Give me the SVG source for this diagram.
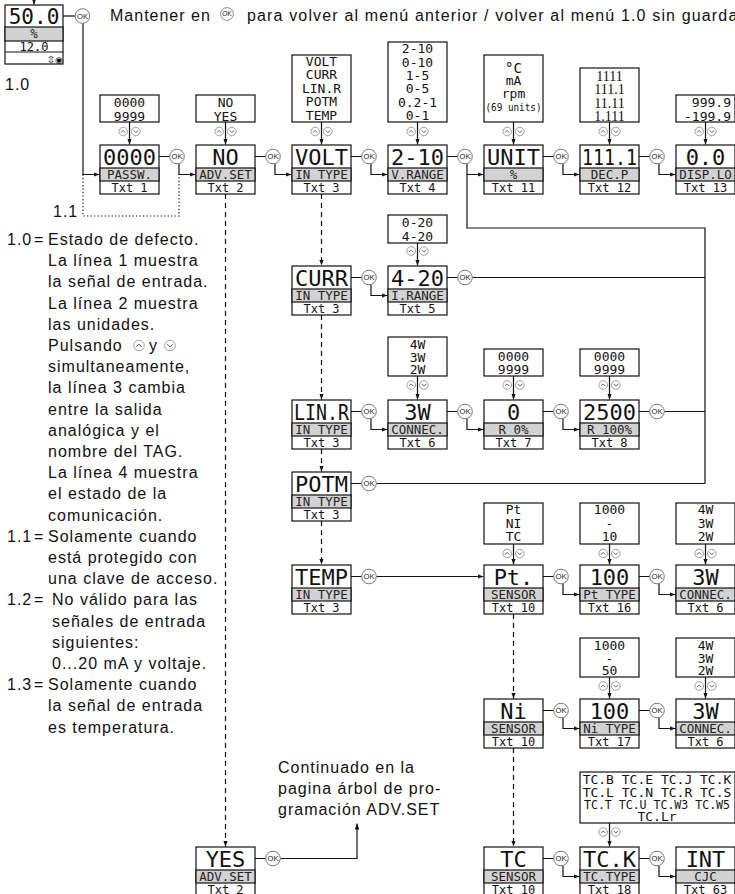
<svg xmlns="http://www.w3.org/2000/svg" width="735" height="894" viewBox="0 0 735 894">
<style>
.p{font-family:'Liberation Sans',Arial,sans-serif;font-size:16px;letter-spacing:1px;fill:#111}
.mt{font-family:'DejaVu Sans Mono',monospace;font-size:22px;text-anchor:middle;fill:#111}
.lt{font-family:'DejaVu Sans Mono',monospace;font-size:12.5px;text-anchor:middle;fill:#222}
.tt{font-family:'DejaVu Sans Mono',monospace;font-size:12px;text-anchor:middle;fill:#111}
.ls{font-family:'DejaVu Sans Mono',monospace;font-size:13px;text-anchor:middle;fill:#111}
.sf{font-family:'Liberation Serif',serif;font-size:14px;text-anchor:middle;fill:#111}
.bx{fill:#fff;stroke:#111;stroke-width:1.2}
.gr{fill:#d2d2d2;stroke:#111;stroke-width:1.2}
.ln{fill:none;stroke:#111;stroke-width:1.2}
.dl{stroke-dasharray:5 4}
.dt{stroke-dasharray:1.3 2.2}
</style>
<defs>
<marker id="ah" viewBox="0 0 8 6" refX="8" refY="3" markerWidth="6" markerHeight="4.5" orient="auto" markerUnits="userSpaceOnUse"><path d="M0,0 L8,3 L0,6 z" fill="#111"/></marker>
<symbol id="ok" viewBox="-8 -8 16 16" overflow="visible"><circle r="7.3" fill="#fff" stroke="#666" stroke-width="0.9"/><text y="2.7" text-anchor="middle" font-family="'Liberation Sans',Arial,sans-serif" font-size="7.6" fill="#222">OK</text></symbol>
<symbol id="ud" viewBox="-12 -5 24 10" overflow="visible"><circle cx="-6.3" r="4.3" fill="#fff" stroke="#888" stroke-width="0.8"/><circle cx="6.3" r="4.3" fill="#fff" stroke="#888" stroke-width="0.8"/><path d="M-8.4,1.1 L-6.3,-1.1 L-4.2,1.1 M4.2,-1.1 L6.3,1.1 L8.4,-1.1" stroke="#555" fill="none" stroke-width="0.9"/></symbol>
<symbol id="iu" viewBox="-6 -6 12 12" overflow="visible"><circle r="5.3" fill="#fff" stroke="#888" stroke-width="0.8"/><path d="M-2.8,1.4 L0,-1.4 L2.8,1.4" stroke="#555" fill="none" stroke-width="1"/></symbol>
<symbol id="idn" viewBox="-6 -6 12 12" overflow="visible"><circle r="5.3" fill="#fff" stroke="#888" stroke-width="0.8"/><path d="M-2.8,-1.4 L0,1.4 L2.8,-1.4" stroke="#555" fill="none" stroke-width="1"/></symbol>
</defs>
<rect width="735" height="894" fill="#fff"/>

<!-- header -->
<g id="header">
<text class="p" x="110" y="20.5">Mantener en</text>
<use href="#ok" x="220" y="7" width="14" height="14"/>
<text class="p" x="247" y="20.5" style="letter-spacing:1.15px">para volver al menú anterior / volver al menú 1.0 sin guardar</text>
<text class="p" x="5" y="90">1.0</text>
<text class="p" x="53" y="217">1.1</text>
</g>

<!-- notes -->
<g id="notes" class="p">
<text x="7" y="245">1.0</text><text x="34" y="245">=</text><text x="48" y="245">Estado de defecto.</text>
<text x="48" y="266.2">La línea 1 muestra</text>
<text x="48" y="287.4">la señal de entrada.</text>
<text x="48" y="308.6">La línea 2 muestra</text>
<text x="48" y="329.8">las unidades.</text>
<text x="48" y="351">Pulsando</text><text x="149" y="351">y</text>
<text x="48" y="372.2">simultaneamente,</text>
<text x="48" y="393.4">la línea 3 cambia</text>
<text x="48" y="414.6">entre la salida</text>
<text x="48" y="435.8">analógica y el</text>
<text x="48" y="457">nombre del TAG.</text>
<text x="48" y="478.2">La línea 4 muestra</text>
<text x="48" y="499.4">el estado de la</text>
<text x="48" y="520.6">comunicación.</text>
<text x="7" y="541.8">1.1</text><text x="34" y="541.8">=</text><text x="48" y="541.8">Solamente cuando</text>
<text x="48" y="563">está protegido con</text>
<text x="48" y="584.2">una clave de acceso.</text>
<text x="7" y="605.4">1.2</text><text x="34" y="605.4">=</text><text x="52" y="605.4">No válido para las</text>
<text x="52" y="626.6">señales de entrada</text>
<text x="52" y="647.8">siguientes:</text>
<text x="52" y="669">0...20 mA y voltaje.</text>
<text x="7" y="690.2">1.3</text><text x="34" y="690.2">=</text><text x="48" y="690.2">Solamente cuando</text>
<text x="48" y="711.4">la señal de entrada</text>
<text x="48" y="732.6">es temperatura.</text>
<text x="278" y="773">Continuado en la</text>
<text x="278" y="794">pagina árbol de pro-</text>
<text x="278" y="815">gramación ADV.SET</text>
</g>
<use href="#iu" x="133" y="339.5" width="12" height="12"/>
<use href="#idn" x="164" y="339.5" width="12" height="12"/>

<!-- connectors -->
<g id="connectors" class="ln" marker-end="url(#ah)">
<path d="M34,-1 V4.5"/>
<path d="M83,23.3 V174.5 H99.5"/>
<path d="M179,163.8 V174.5 H195.5"/>
<path d="M275,163.8 V174.5 H291.5"/>
<path d="M371,163.8 V174.5 H387.5"/>
<path d="M467,163.8 V174.5 H483.5"/>
<path d="M563,163.8 V174.5 H579.5"/>
<path d="M659,163.8 V174.5 H675.5"/>
<path d="M129.5,122 V144.5"/>
<path d="M225.5,122 V144.5"/>
<path d="M321.5,122 V144.5"/>
<path d="M417.5,122 V144.5"/>
<path d="M513.5,122 V144.5"/>
<path d="M609.5,122 V144.5"/>
<path d="M705.5,122 V144.5"/>
<path d="M371,284.8 V295.5 H387.5"/>
<path d="M417.5,243 V265.5"/>
<path d="M371,418.8 V429.5 H387.5"/>
<path d="M467,418.8 V429.5 H483.5"/>
<path d="M563,418.8 V429.5 H579.5"/>
<path d="M417.5,376 V399.5"/>
<path d="M513.5,376 V399.5"/>
<path d="M609.5,376 V399.5"/>
<path d="M376.3,576.5 H483.5"/>
<path d="M563,583.8 V594.5 H579.5"/>
<path d="M659,583.8 V594.5 H675.5"/>
<path d="M513.5,544 V564.5"/>
<path d="M609.5,544 V564.5"/>
<path d="M705.5,544 V564.5"/>
<path d="M563,717.8 V728.5 H579.5"/>
<path d="M659,717.8 V728.5 H675.5"/>
<path d="M609.5,677 V698.5"/>
<path d="M705.5,677 V698.5"/>
<path d="M563,865.8 V876.5 H579.5"/>
<path d="M659,865.8 V876.5 H675.5"/>
<path d="M609.5,823 V846.5"/>
<path d="M280.3,858.5 H357 V823.5"/>
<path class="dl" d="M225.5,194 V846.5"/>
<path class="dl" d="M321.5,194 V265.5"/>
<path class="dl" d="M321.5,315 V399.5"/>
<path class="dl" d="M321.5,449 V471.5"/>
<path class="dl" d="M321.5,521 V564.5"/>
<path class="dl" d="M513.5,614 V698.5"/>
<path class="dl" d="M513.5,748 V846.5"/>
</g>
<g id="links" class="ln">
<path d="M63,16 H75.2"/>
<path class="dt" d="M83,174.5 V216 H179 V174.5"/>
<path d="M159,156.5 H169.7 M255,156.5 H265.7 M351,156.5 H361.7 M447,156.5 H457.7 M543,156.5 H553.7 M639,156.5 H649.7"/>
<path d="M467,174.5 V228 H705 V483.5"/>
<path d="M351,277.5 H361.7 M447,277.5 H457.7 M472.3,277.5 H705"/>
<path d="M351,411.5 H361.7 M447,411.5 H457.7 M543,411.5 H553.7 M639,411.5 H649.7 M664.3,411.5 H705"/>
<path d="M351,483.5 H361.7 M376.3,483.5 H705"/>
<path d="M351,576.5 H361.7 M543,576.5 H553.7 M639,576.5 H649.7"/>
<path d="M543,710.5 H553.7 M639,710.5 H649.7"/>
<path d="M543,858.5 H553.7 M639,858.5 H649.7 M255,858.5 H265.7"/>
</g>

<!-- OK buttons -->
<g id="ok-buttons">
<use href="#ok" x="74.5" y="8" width="16" height="16"/>
<use href="#ok" x="169" y="148.5" width="16" height="16"/>
<use href="#ok" x="265" y="148.5" width="16" height="16"/>
<use href="#ok" x="361" y="148.5" width="16" height="16"/>
<use href="#ok" x="457" y="148.5" width="16" height="16"/>
<use href="#ok" x="553" y="148.5" width="16" height="16"/>
<use href="#ok" x="649" y="148.5" width="16" height="16"/>
<use href="#ok" x="361" y="269.5" width="16" height="16"/>
<use href="#ok" x="457" y="269.5" width="16" height="16"/>
<use href="#ok" x="361" y="403.5" width="16" height="16"/>
<use href="#ok" x="457" y="403.5" width="16" height="16"/>
<use href="#ok" x="553" y="403.5" width="16" height="16"/>
<use href="#ok" x="649" y="403.5" width="16" height="16"/>
<use href="#ok" x="361" y="475.5" width="16" height="16"/>
<use href="#ok" x="361" y="568.5" width="16" height="16"/>
<use href="#ok" x="553" y="568.5" width="16" height="16"/>
<use href="#ok" x="649" y="568.5" width="16" height="16"/>
<use href="#ok" x="553" y="702.5" width="16" height="16"/>
<use href="#ok" x="649" y="702.5" width="16" height="16"/>
<use href="#ok" x="553" y="850.5" width="16" height="16"/>
<use href="#ok" x="649" y="850.5" width="16" height="16"/>
<use href="#ok" x="265" y="850.5" width="16" height="16"/>
</g>

<!-- up/down keys -->
<g id="updown">
<use href="#ud" x="117.5" y="126.5" width="24" height="10"/>
<use href="#ud" x="213.5" y="126.5" width="24" height="10"/>
<use href="#ud" x="309.5" y="126.5" width="24" height="10"/>
<use href="#ud" x="405.5" y="126.5" width="24" height="10"/>
<use href="#ud" x="501.5" y="126.5" width="24" height="10"/>
<use href="#ud" x="597.5" y="126.5" width="24" height="10"/>
<use href="#ud" x="693.5" y="126.5" width="24" height="10"/>
<use href="#ud" x="405.5" y="246" width="24" height="10"/>
<use href="#ud" x="405.5" y="380" width="24" height="10"/>
<use href="#ud" x="501.5" y="380" width="24" height="10"/>
<use href="#ud" x="597.5" y="380" width="24" height="10"/>
<use href="#ud" x="501.5" y="548.5" width="24" height="10"/>
<use href="#ud" x="597.5" y="548.5" width="24" height="10"/>
<use href="#ud" x="693.5" y="548.5" width="24" height="10"/>
<use href="#ud" x="597.5" y="681" width="24" height="10"/>
<use href="#ud" x="693.5" y="681" width="24" height="10"/>
<use href="#ud" x="597.5" y="827" width="24" height="10"/>
</g>

<!-- value lists -->
<g id="l-passw"><rect class="bx" x="100" y="95" width="59" height="27"/><text class="ls" x="129.5" y="107.3">0000</text><text class="ls" x="129.5" y="120.5">9999</text></g>
<g id="l-advset"><rect class="bx" x="196" y="95" width="59" height="27"/><text class="ls" x="225.5" y="107.3">NO</text><text class="ls" x="225.5" y="120.5">YES</text></g>
<g id="l-intype"><rect class="bx" x="292" y="55" width="59" height="67"/><text class="ls" x="321.5" y="66">VOLT</text><text class="ls" x="321.5" y="79.4">CURR</text><text class="ls" x="321.5" y="92.8">LIN.R</text><text class="ls" x="321.5" y="106.2">POTM</text><text class="ls" x="321.5" y="119.6">TEMP</text></g>
<g id="l-vrange"><rect class="bx" x="388" y="42" width="59" height="80"/><text class="ls" x="417.5" y="53.3">2-10</text><text class="ls" x="417.5" y="66.6">0-10</text><text class="ls" x="417.5" y="79.9">1-5</text><text class="ls" x="417.5" y="93.2">0-5</text><text class="ls" x="417.5" y="106.5">0.2-1</text><text class="ls" x="417.5" y="119.8">0-1</text></g>
<g id="l-unit"><rect class="bx" x="484" y="55" width="59" height="67"/><text class="ls" x="513.5" y="73" style="font-size:14px">°C</text><text class="ls" x="513.5" y="85" style="font-size:13px">mA</text><text class="ls" x="513.5" y="97.5" style="font-size:13px">rpm</text><text class="ls" x="513.5" y="111" style="font-size:10px" textLength="56" lengthAdjust="spacingAndGlyphs">(69 units)</text></g>
<g id="l-decp"><rect class="bx" x="580" y="68" width="59" height="54"/><text class="sf" x="609.5" y="81">1111</text><text class="sf" x="609.5" y="94.3">111.1</text><text class="sf" x="609.5" y="107.6">11.11</text><text class="sf" x="609.5" y="120.6">1.111</text></g>
<g id="l-displo"><rect class="bx" x="676" y="95" width="59" height="27"/><text class="ls" x="731" y="107.3" style="text-anchor:end">999.9</text><text class="ls" x="731" y="120.5" style="text-anchor:end">-199.9</text></g>
<g id="l-irange"><rect class="bx" x="388" y="215" width="59" height="28"/><text class="ls" x="417.5" y="227">0-20</text><text class="ls" x="417.5" y="240.5">4-20</text></g>
<g id="l-connec1"><rect class="bx" x="388" y="337" width="59" height="39"/><text class="ls" x="417.5" y="348.5">4W</text><text class="ls" x="417.5" y="361.5">3W</text><text class="ls" x="417.5" y="374">2W</text></g>
<g id="l-r0"><rect class="bx" x="484" y="349" width="59" height="27"/><text class="ls" x="513.5" y="361">0000</text><text class="ls" x="513.5" y="374">9999</text></g>
<g id="l-r100"><rect class="bx" x="580" y="349" width="59" height="27"/><text class="ls" x="609.5" y="361">0000</text><text class="ls" x="609.5" y="374">9999</text></g>
<g id="l-sensor"><rect class="bx" x="484" y="503" width="59" height="41"/><text class="ls" x="513.5" y="514">Pt</text><text class="ls" x="513.5" y="527.5">NI</text><text class="ls" x="513.5" y="541">TC</text></g>
<g id="l-pttype"><rect class="bx" x="580" y="503" width="59" height="41"/><text class="ls" x="609.5" y="514">1000</text><text class="ls" x="609.5" y="527.5">-</text><text class="ls" x="609.5" y="541">10</text></g>
<g id="l-connec2"><rect class="bx" x="676" y="503" width="59" height="41"/><text class="ls" x="705.5" y="514">4W</text><text class="ls" x="705.5" y="527.5">3W</text><text class="ls" x="705.5" y="541">2W</text></g>
<g id="l-nitype"><rect class="bx" x="580" y="638" width="59" height="39"/><text class="ls" x="609.5" y="649.5">1000</text><text class="ls" x="609.5" y="662.5">-</text><text class="ls" x="609.5" y="675">50</text></g>
<g id="l-connec3"><rect class="bx" x="676" y="638" width="59" height="39"/><text class="ls" x="705.5" y="649.5">4W</text><text class="ls" x="705.5" y="662.5">3W</text><text class="ls" x="705.5" y="675">2W</text></g>
<g id="l-tctype"><rect class="bx" x="580" y="772" width="155" height="51"/><text class="ls" x="657" y="784">TC.B TC.E TC.J TC.K</text><text class="ls" x="657" y="796.5">TC.L TC.N TC.R TC.S</text><text class="ls" x="657" y="809" textLength="146" lengthAdjust="spacingAndGlyphs">TC.T TC.U TC.W3 TC.W5</text><text class="ls" x="657" y="821">TC.Lr</text></g>

<!-- home display -->
<g id="n-home" transform="translate(5,5)">
<rect class="bx" x="0" y="0" width="58" height="59"/>
<rect class="gr" x="0" y="22" width="58" height="14"/>
<path class="ln" d="M0,47 H58"/>
<text class="mt" x="29" y="19" style="font-size:21px">50.0</text>
<text class="lt" x="29" y="33">%</text>
<text class="tt" x="29" y="45.5">12.0</text>
<text x="46" y="57.5" font-family="'DejaVu Sans',sans-serif" font-size="10" text-anchor="middle" fill="#111">⇳</text>
<text x="54" y="57.5" font-family="'DejaVu Sans',sans-serif" font-size="9" text-anchor="middle" fill="#111">◉</text>
</g>

<!-- nodes -->
<g id="n-passw" transform="translate(100,145)"><rect class="bx" width="59" height="49"/><rect class="gr" y="23" width="59" height="13"/><text class="mt" x="29.5" y="20">0000</text><text class="lt" x="29.5" y="34">PASSW.</text><text class="tt" x="29.5" y="46.5">Txt 1</text></g>
<g id="n-advset-no" transform="translate(196,145)"><rect class="bx" width="59" height="49"/><rect class="gr" y="23" width="59" height="13"/><text class="mt" x="29.5" y="20">NO</text><text class="lt" x="29.5" y="34">ADV.SET</text><text class="tt" x="29.5" y="46.5">Txt 2</text></g>
<g id="n-volt" transform="translate(292,145)"><rect class="bx" width="59" height="49"/><rect class="gr" y="23" width="59" height="13"/><text class="mt" x="29.5" y="20">VOLT</text><text class="lt" x="29.5" y="34">IN TYPE</text><text class="tt" x="29.5" y="46.5">Txt 3</text></g>
<g id="n-vrange" transform="translate(388,145)"><rect class="bx" width="59" height="49"/><rect class="gr" y="23" width="59" height="13"/><text class="mt" x="29.5" y="20">2-10</text><text class="lt" x="29.5" y="34">V.RANGE</text><text class="tt" x="29.5" y="46.5">Txt 4</text></g>
<g id="n-unit" transform="translate(484,145)"><rect class="bx" width="59" height="49"/><rect class="gr" y="23" width="59" height="13"/><text class="mt" x="29.5" y="20">UNIT</text><text class="lt" x="29.5" y="34">%</text><text class="tt" x="29.5" y="46.5">Txt 11</text></g>
<g id="n-decp" transform="translate(580,145)"><rect class="bx" width="59" height="49"/><rect class="gr" y="23" width="59" height="13"/><text class="mt" x="29.5" y="20" textLength="55" lengthAdjust="spacingAndGlyphs">111.1</text><text class="lt" x="29.5" y="34">DEC.P</text><text class="tt" x="29.5" y="46.5">Txt 12</text></g>
<g id="n-displo" transform="translate(676,145)"><rect class="bx" width="59" height="49"/><rect class="gr" y="23" width="59" height="13"/><text class="mt" x="29.5" y="20">0.0</text><text class="lt" x="29.5" y="34">DISP.LO</text><text class="tt" x="29.5" y="46.5">Txt 13</text></g>
<g id="n-curr" transform="translate(292,266)"><rect class="bx" width="59" height="49"/><rect class="gr" y="23" width="59" height="13"/><text class="mt" x="29.5" y="20">CURR</text><text class="lt" x="29.5" y="34">IN TYPE</text><text class="tt" x="29.5" y="46.5">Txt 3</text></g>
<g id="n-irange" transform="translate(388,266)"><rect class="bx" width="59" height="49"/><rect class="gr" y="23" width="59" height="13"/><text class="mt" x="29.5" y="20">4-20</text><text class="lt" x="29.5" y="34">I.RANGE</text><text class="tt" x="29.5" y="46.5">Txt 5</text></g>
<g id="n-linr" transform="translate(292,400)"><rect class="bx" width="59" height="49"/><rect class="gr" y="23" width="59" height="13"/><text class="mt" x="29.5" y="20" textLength="55" lengthAdjust="spacingAndGlyphs">LIN.R</text><text class="lt" x="29.5" y="34">IN TYPE</text><text class="tt" x="29.5" y="46.5">Txt 3</text></g>
<g id="n-connec1" transform="translate(388,400)"><rect class="bx" width="59" height="49"/><rect class="gr" y="23" width="59" height="13"/><text class="mt" x="29.5" y="20">3W</text><text class="lt" x="29.5" y="34">CONNEC.</text><text class="tt" x="29.5" y="46.5">Txt 6</text></g>
<g id="n-r0" transform="translate(484,400)"><rect class="bx" width="59" height="49"/><rect class="gr" y="23" width="59" height="13"/><text class="mt" x="29.5" y="20">0</text><text class="lt" x="29.5" y="34">R 0%</text><text class="tt" x="29.5" y="46.5">Txt 7</text></g>
<g id="n-r100" transform="translate(580,400)"><rect class="bx" width="59" height="49"/><rect class="gr" y="23" width="59" height="13"/><text class="mt" x="29.5" y="20">2500</text><text class="lt" x="29.5" y="34">R 100%</text><text class="tt" x="29.5" y="46.5">Txt 8</text></g>
<g id="n-potm" transform="translate(292,472)"><rect class="bx" width="59" height="49"/><rect class="gr" y="23" width="59" height="13"/><text class="mt" x="29.5" y="20">POTM</text><text class="lt" x="29.5" y="34">IN TYPE</text><text class="tt" x="29.5" y="46.5">Txt 3</text></g>
<g id="n-temp" transform="translate(292,565)"><rect class="bx" width="59" height="49"/><rect class="gr" y="23" width="59" height="13"/><text class="mt" x="29.5" y="20">TEMP</text><text class="lt" x="29.5" y="34">IN TYPE</text><text class="tt" x="29.5" y="46.5">Txt 3</text></g>
<g id="n-sensor-pt" transform="translate(484,565)"><rect class="bx" width="59" height="49"/><rect class="gr" y="23" width="59" height="13"/><text class="mt" x="29.5" y="20">Pt.</text><text class="lt" x="29.5" y="34">SENSOR</text><text class="tt" x="29.5" y="46.5">Txt 10</text></g>
<g id="n-pttype" transform="translate(580,565)"><rect class="bx" width="59" height="49"/><rect class="gr" y="23" width="59" height="13"/><text class="mt" x="29.5" y="20">100</text><text class="lt" x="29.5" y="34">Pt TYPE</text><text class="tt" x="29.5" y="46.5">Txt 16</text></g>
<g id="n-connec2" transform="translate(676,565)"><rect class="bx" width="59" height="49"/><rect class="gr" y="23" width="59" height="13"/><text class="mt" x="29.5" y="20">3W</text><text class="lt" x="29.5" y="34">CONNEC.</text><text class="tt" x="29.5" y="46.5">Txt 6</text></g>
<g id="n-sensor-ni" transform="translate(484,699)"><rect class="bx" width="59" height="49"/><rect class="gr" y="23" width="59" height="13"/><text class="mt" x="29.5" y="20">Ni</text><text class="lt" x="29.5" y="34">SENSOR</text><text class="tt" x="29.5" y="46.5">Txt 10</text></g>
<g id="n-nitype" transform="translate(580,699)"><rect class="bx" width="59" height="49"/><rect class="gr" y="23" width="59" height="13"/><text class="mt" x="29.5" y="20">100</text><text class="lt" x="29.5" y="34">Ni TYPE</text><text class="tt" x="29.5" y="46.5">Txt 17</text></g>
<g id="n-connec3" transform="translate(676,699)"><rect class="bx" width="59" height="49"/><rect class="gr" y="23" width="59" height="13"/><text class="mt" x="29.5" y="20">3W</text><text class="lt" x="29.5" y="34">CONNEC.</text><text class="tt" x="29.5" y="46.5">Txt 6</text></g>
<g id="n-sensor-tc" transform="translate(484,847)"><rect class="bx" width="59" height="49"/><rect class="gr" y="23" width="59" height="13"/><text class="mt" x="29.5" y="20">TC</text><text class="lt" x="29.5" y="34">SENSOR</text><text class="tt" x="29.5" y="46.5">Txt 10</text></g>
<g id="n-tctype" transform="translate(580,847)"><rect class="bx" width="59" height="49"/><rect class="gr" y="23" width="59" height="13"/><text class="mt" x="29.5" y="20">TC.K</text><text class="lt" x="29.5" y="34">TC.TYPE</text><text class="tt" x="29.5" y="46.5">Txt 18</text></g>
<g id="n-cjc" transform="translate(676,847)"><rect class="bx" width="59" height="49"/><rect class="gr" y="23" width="59" height="13"/><text class="mt" x="29.5" y="20">INT</text><text class="lt" x="29.5" y="34">CJC</text><text class="tt" x="29.5" y="46.5">Txt 63</text></g>
<g id="n-advset-yes" transform="translate(196,847)"><rect class="bx" width="59" height="49"/><rect class="gr" y="23" width="59" height="13"/><text class="mt" x="29.5" y="20">YES</text><text class="lt" x="29.5" y="34">ADV.SET</text><text class="tt" x="29.5" y="46.5">Txt 2</text></g>
</svg>
